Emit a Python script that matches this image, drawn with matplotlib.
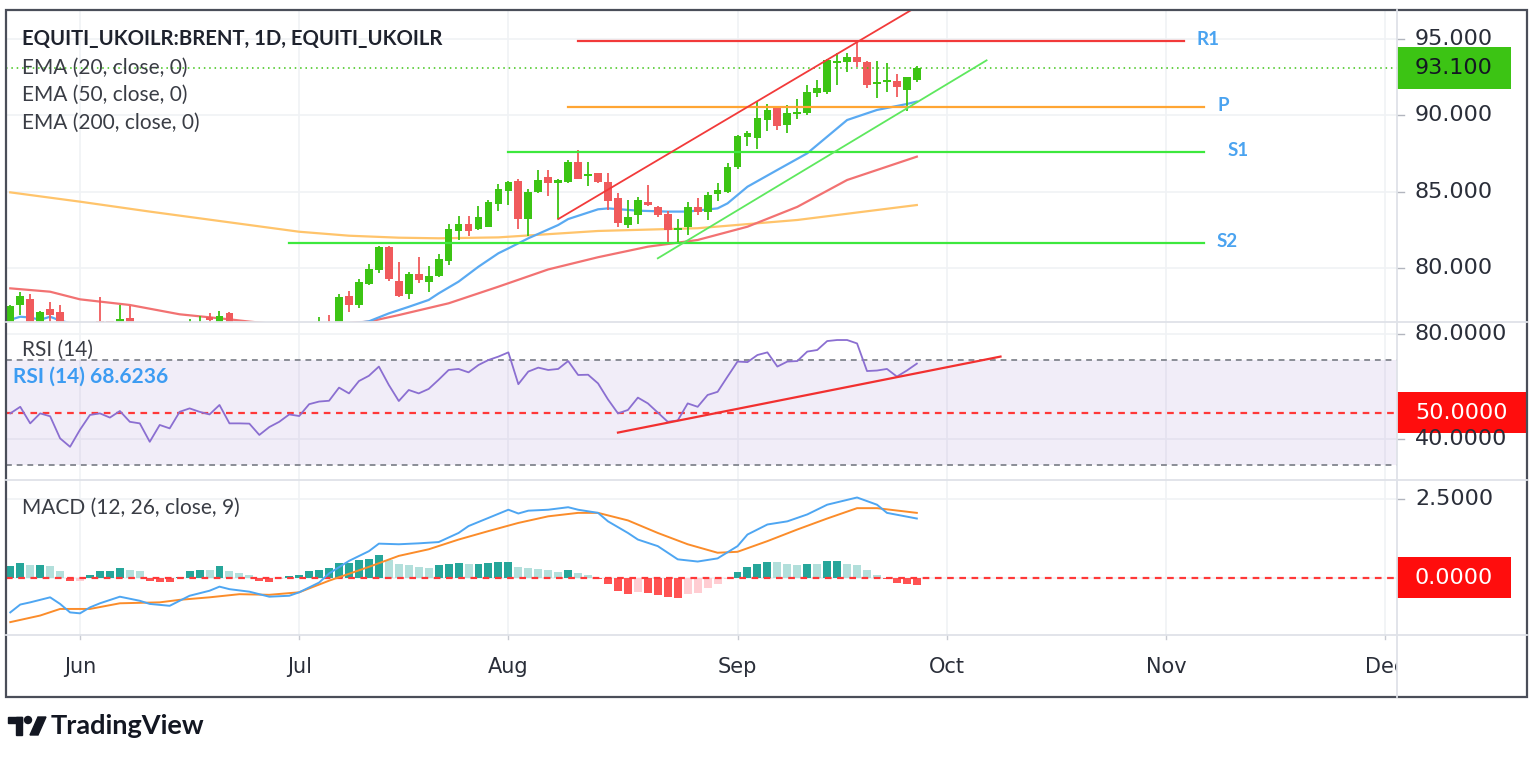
import matplotlib
matplotlib.use("Agg")
import matplotlib.pyplot as plt
import matplotlib.transforms as mtransforms
from matplotlib.patches import Rectangle, Ellipse, Polygon
from matplotlib.lines import Line2D

W, H = 1534, 757

# trading-day index, 0 = 1 Jun 2023
days = list(range(-7, 85))
opens = [76.0, 77.6, 77.94, 75.9, 77.31, 77.1, 76.0, 74.8, 75.9, 76.5, 76.52, 75.2, 76.74,
         75.7, 74.7, 73.3, 74.3, 73.9, 75.3, 75.5, 76.8, 76.3, 77.02, 76.0, 75.1, 74.2, 73.0,
         74.0, 75.0, 75.5, 75.2, 76.2, 76.3, 76.0, 78.18, 77.57, 78.95, 79.86, 81.35, 79.16,
         78.29, 79.6, 79.1, 79.49, 80.47, 82.44, 82.88, 82.55, 82.7, 84.19, 85.06, 85.72, 83.2,
         84.95, 85.98, 85.54, 85.6, 86.96, 86.04, 86.2, 85.65, 84.56, 82.81, 83.47, 84.34, 84.0,
         83.53, 82.48, 82.7, 84.0, 83.69, 84.85, 85.0, 86.6, 88.6, 88.5, 89.69, 90.5, 89.36,
         90.09, 90.13, 91.44, 91.55, 93.41, 93.51, 93.8, 93.51, 92.05, 92.16, 92.27, 91.66, 92.31]
highs = [77.6, 78.4, 78.27, 77.2, 77.74, 77.57, 76.3, 76.2, 76.3, 78.07, 76.55, 77.57, 77.5,
         76.2, 75.4, 74.5, 74.9, 75.6, 76.65, 76.87, 77.02, 77.2, 77.13, 76.3, 75.6, 74.5, 74.3,
         75.2, 75.8, 76.3, 76.4, 76.8, 76.91, 78.29, 78.5, 79.27, 80.26, 81.46, 81.42, 80.37,
         79.71, 80.69, 80.15, 80.91, 82.88, 83.42, 83.42, 84.08, 84.45, 85.5, 85.72, 85.83, 85.17,
         86.42, 86.42, 85.83, 87.07, 87.73, 86.96, 86.25, 86.2, 84.93, 84.45, 84.63, 85.43, 84.06,
         83.75, 83.2, 84.34, 84.56, 85.0, 85.54, 86.85, 88.7, 88.97, 90.89, 90.74, 90.57, 90.67,
         91.05, 91.99, 92.31, 93.69, 94.06, 94.1, 94.89, 93.58, 93.58, 93.45, 92.71, 92.49, 93.2]
lows = [75.8, 76.9, 75.9, 75.5, 76.2, 75.8, 74.5, 74.2, 74.6, 74.9, 75.0, 74.9, 75.5,
        74.3, 73.0, 73.0, 73.4, 73.5, 74.9, 75.0, 76.0, 75.9, 75.8, 74.8, 73.9, 72.8, 72.6,
        73.8, 74.6, 74.9, 75.0, 75.8, 75.6, 75.8, 77.13, 77.35, 78.88, 79.65, 79.16, 78.07,
        77.96, 79.03, 78.44, 79.43, 80.19, 81.83, 82.11, 82.48, 82.66, 83.75, 84.12, 82.55, 82.11,
        84.89, 84.73, 83.2, 85.54, 85.8, 85.39, 85.54, 83.79, 82.7, 82.6, 82.88, 84.07, 83.36,
        81.61, 81.61, 82.16, 83.45, 83.14, 84.4, 84.9, 86.5, 87.99, 87.77, 88.97, 89.04, 88.82,
        89.74, 90.0, 91.2, 91.4, 91.99, 92.86, 93.18, 91.77, 91.11, 91.55, 91.22, 90.3, 92.2]
closes = [77.52, 78.18, 76.1, 77.1, 76.91, 76.0, 74.8, 75.9, 75.0, 75.3, 75.4, 76.65, 75.7,
          74.7, 73.3, 74.3, 73.9, 75.3, 76.1, 76.2, 76.6, 76.87, 76.0, 75.1, 74.2, 73.0, 74.0,
          75.0, 75.5, 75.2, 76.2, 76.4, 76.0, 78.07, 77.57, 79.06, 79.93, 81.35, 79.27, 78.18,
          79.6, 79.2, 79.49, 80.58, 82.55, 82.88, 82.44, 83.31, 84.34, 85.17, 85.6, 83.2, 85.0,
          85.76, 85.54, 85.76, 86.96, 85.83, 86.15, 85.65, 84.4, 82.92, 83.35, 84.45, 84.12, 83.47,
          82.48, 82.6, 84.0, 83.69, 84.78, 85.1, 86.63, 88.64, 88.82, 89.8, 90.35, 89.3, 90.13,
          90.24, 91.55, 91.77, 93.62, 93.58, 93.8, 93.47, 91.99, 92.2, 92.31, 91.88, 92.49, 93.1]
last_price = 93.1

ema20_day = [-7, -6, -5, -4, -3, -2, 0, 10, 20, 29, 31, 33, 35, 36, 38, 40, 42, 43, 45, 48,
             49, 52, 53, 56, 59, 61, 64, 65, 67, 70, 73, 75, 77, 80, 83, 84]
ema20 = [76.6, 76.8, 76.75, 76.6, 76.8, 76.55, 76.2, 75.6, 75.7, 76.5, 77.02, 77.45, 77.9,
         78.33, 79.1, 80.08, 80.96, 81.28, 81.94, 82.81, 83.2, 83.84, 83.9, 83.75, 83.69, 83.69,
         83.9, 84.23, 85.32, 86.42, 87.51, 88.6, 89.69, 90.35, 90.74, 90.9]
ema50_day = [-7, -3, 0, 5, 10, 15, 17, 20, 25, 29, 32, 37, 42, 47, 52, 57, 62, 67, 72, 77, 84]
ema50 = [78.66, 78.44, 77.94, 77.57, 76.96, 76.63, 76.48, 76.3, 76.3, 76.48, 76.91, 77.68,
         78.77, 79.9, 80.7, 81.39, 81.83, 82.7, 84.0, 85.76, 87.29]
ema200_day = [-7, 0, 7, 12, 17, 22, 27, 32, 36, 42, 52, 62, 72, 84]
ema200 = [84.95, 84.34, 83.69, 83.25, 82.81, 82.37, 82.11, 81.98, 81.94, 82.0, 82.42, 82.6,
          83.14, 84.12]

pivot_names = ["R1", "P", "S1", "S2"]
pivot_levels = [94.87, 90.52, 87.57, 81.62]
pivot_start = [50, 49, 43, 21]
pivot_end = [110.8, 112.8, 112.8, 112.8]

channel_top_day = [48, 85]
channel_top = [83.2, 97.5]
channel_bot_day = [58, 91]
channel_bot = [80.63, 93.6]

rsi = [49.7, 52.2, 45.9, 49.7, 48.6, 40.2, 37.0, 43.5, 49.1, 49.7, 48.1, 50.6, 46.5, 45.9,
       38.9, 45.3, 44.0, 50.3, 51.6, 50.3, 49.3, 52.9, 45.9, 45.9, 45.8, 41.5, 44.5, 46.5,
       49.3, 48.7, 53.2, 54.2, 54.5, 59.5, 57.3, 62.0, 64.0, 67.5, 60.5, 54.4, 58.6, 57.3,
       59.0, 62.5, 66.2, 66.6, 65.3, 68.1, 70.0, 71.3, 72.9, 60.8, 65.6, 67.1, 66.2, 66.6,
       69.6, 64.3, 64.4, 61.1, 55.0, 49.7, 51.0, 55.7, 53.5, 50.0, 46.5, 47.0, 53.5, 52.2,
       56.7, 57.9, 63.7, 69.4, 69.2, 71.9, 72.9, 67.5, 69.4, 69.6, 73.2, 73.8, 77.2, 77.6,
       77.6, 76.3, 65.8, 66.0, 66.6, 63.7, 66.0, 68.62]
rsi_last = 68.6236
rsi_trend_day = [54, 92.4]
rsi_trend = [42.4, 71.3]

macd_day = [-7, -6, -5, -3, -2, -1, 0, 1, 2, 4, 6, 7, 9, 11, 13, 14, 15, 17, 19, 21, 22, 24,
            25, 27, 29, 30, 32, 34, 36, 38, 39, 41, 43, 44, 45, 47, 49, 50, 52, 53, 55, 56,
            58, 60, 62, 64, 66, 67, 69, 71, 73, 75, 78, 80, 81, 84]
macd = [-1.10, -0.85, -0.78, -0.62, -0.83, -1.10, -1.13, -0.94, -0.81, -0.60, -0.73, -0.83,
        -0.89, -0.57, -0.41, -0.28, -0.36, -0.44, -0.60, -0.57, -0.46, -0.15, 0.14, 0.54,
        0.85, 1.09, 1.07, 1.10, 1.14, 1.43, 1.65, 1.91, 2.17, 2.05, 2.14, 2.17, 2.25, 2.17,
        2.07, 1.80, 1.43, 1.22, 1.01, 0.59, 0.52, 0.62, 1.01, 1.38, 1.70, 1.80, 2.02, 2.33,
        2.56, 2.33, 2.07, 1.89]
signal_day = [-7, -4, -2, 1, 4, 8, 10, 13, 16, 19, 22, 25, 29, 32, 35, 38, 41, 44, 47, 50,
              52, 55, 58, 61, 64, 66, 69, 72, 75, 78, 80, 84]
signal = [-1.41, -1.20, -0.99, -0.99, -0.81, -0.78, -0.70, -0.62, -0.52, -0.54, -0.46, -0.09,
          0.35, 0.70, 0.91, 1.22, 1.49, 1.75, 1.96, 2.07, 2.07, 1.83, 1.43, 1.07, 0.80, 0.83,
          1.17, 1.54, 1.89, 2.22, 2.22, 2.07]
hist = [0.37, 0.47, 0.40, 0.41, 0.38, 0.21, -0.11, -0.10, 0.08, 0.21, 0.22, 0.32, 0.26, 0.21,
        -0.11, -0.12, -0.13, 0.03, 0.21, 0.26, 0.25, 0.37, 0.21, 0.14, 0.08, -0.11, -0.12,
        -0.05, 0.05, 0.08, 0.21, 0.26, 0.32, 0.47, 0.48, 0.56, 0.61, 0.72, 0.58, 0.45, 0.40,
        0.35, 0.30, 0.40, 0.45, 0.46, 0.44, 0.45, 0.46, 0.51, 0.52, 0.35, 0.30, 0.29, 0.24,
        0.19, 0.24, 0.14, 0.08, -0.05, -0.21, -0.42, -0.53, -0.46, -0.48, -0.55, -0.60, -0.63,
        -0.53, -0.47, -0.32, -0.21, -0.05, 0.19, 0.35, 0.45, 0.51, 0.50, 0.45, 0.40, 0.45,
        0.44, 0.53, 0.54, 0.45, 0.40, 0.24, 0.08, -0.05, -0.16, -0.21, -0.22]

month_day = [0, 22, 43, 66, 87, 109, 131]
month_lbl = ["Jun", "Jul", "Aug", "Sep", "Oct", "Nov", "Dec"]
price_ticks = [80, 85, 90, 95]
rsi_ticks = [40, 80]
macd_ticks = [2.5]

GREEN = "#3cc414"
RED = "#f05a5c"
GRID = "#f0f2f5"
SEP = "#dfe2e8"
TXT = "#2a2e39"
LBL = ["Lato", "DejaVu Sans"]

fig = plt.figure(figsize=(W / 100, H / 100), dpi=100)
fig.patch.set_facecolor("white")


def fx(x):
    return x / W


def fy(y):
    return 1 - y / H


def px_box(x0, y0, x1, y1):
    return [x0 / W, 1 - y1 / H, (x1 - x0) / W, (y1 - y0) / H]


XL = (-7.43, 132.2)
ax = fig.add_axes(px_box(6, 10, 1397, 322))
ax_rsi = fig.add_axes(px_box(6, 322, 1397, 480))
ax_macd = fig.add_axes(px_box(6, 480, 1397, 635))
ax_t = fig.add_axes(px_box(6, 635, 1397, 697))
ax.set_ylim(76.455, 96.9)
ax_rsi.set_ylim(24.37, 84.45)
ax_macd.set_ylim(-1.82, 3.117)
ax_t.set_ylim(0, 1)
for a in (ax, ax_rsi, ax_macd, ax_t):
    a.set_xlim(*XL)
    a.set_axis_off()
for a in (ax, ax_rsi, ax_macd):
    for m in month_day:
        a.axvline(m, color=GRID, lw=1.2, zorder=0)
for v in price_ticks:
    ax.axhline(v, color=GRID, lw=1.2, zorder=0)
for v in rsi_ticks:
    ax_rsi.axhline(v, color=GRID, lw=1.2, zorder=0)
for v in macd_ticks + [0]:
    ax_macd.axhline(v, color=GRID, lw=1.2, zorder=0)

# main pane: EMAs, candles, drawings
ax.plot(ema200_day, ema200, color="#ffc46b", lw=1.6, zorder=2)
ax.plot(ema50_day, ema50, color="#f27272", lw=1.6, zorder=2)
ax.plot(ema20_day, ema20, color="#5aaaf2", lw=1.6, zorder=2)

cols = [GREEN if c >= o else RED for o, c in zip(opens, closes)]
bottoms = [min(o, c) for o, c in zip(opens, closes)]
heights = [max(abs(c - o), 0.07) for o, c in zip(opens, closes)]
ax.vlines(days, lows, highs, colors=cols, lw=1.3, zorder=3)
ax.bar(days, heights, bottom=bottoms, width=0.78, color=cols, zorder=4)

ax.axhline(last_price, color=GREEN, lw=1.1, ls=(0, (1, 2.5)), zorder=5)
pivot_cols = ["#f23a3a", "#ffa533", "#3de83d", "#3de83d"]
for lvl, s, e, c in zip(pivot_levels, pivot_start, pivot_end, pivot_cols):
    ax.plot([s, e], [lvl, lvl], color=c, lw=1.6, zorder=6)
ax.plot(channel_top_day, channel_top, color="#f23a3a", lw=1.3, zorder=6)
ax.plot(channel_bot_day, channel_bot, color="#5ee85e", lw=1.3, zorder=6)

label_x = [112.1, 114.2, 115.2, 114.1]
for name, lvl, lx in zip(pivot_names, pivot_levels, label_x):
    ax.text(lx, lvl + 0.1, name, color="#4aa3f0", fontsize=13.5, fontweight="bold",
            family=LBL, va="center", ha="left", zorder=7)

# RSI pane
ax_rsi.axhspan(30, 70, color="#7e57c2", alpha=0.1, lw=0, zorder=1)
ax_rsi.axhline(70, color="#8a8d96", lw=1.4, dashes=(3, 2.5), zorder=2)
ax_rsi.axhline(30, color="#8a8d96", lw=1.4, dashes=(3, 2.5), zorder=2)
ax_rsi.axhline(50, color="#ff3838", lw=1.6, dashes=(3, 2.5), zorder=2)
ax_rsi.plot(days, rsi, color="#8b6fd1", lw=1.3, zorder=3)
ax_rsi.plot(rsi_trend_day, rsi_trend, color="#f23030", lw=1.6, zorder=4)

# MACD pane
hcols = []
prev = None
for h in hist:
    up = prev is None or h >= prev
    if h >= 0:
        hcols.append("#26a69a" if up else "#b2dfdb")
    else:
        hcols.append("#ffcdd2" if up else "#ff5252")
    prev = h
ax_macd.bar(days, hist, width=0.8, color=hcols, zorder=2)
ax_macd.axhline(0, color="#ff3838", lw=1.6, dashes=(3, 2.5), zorder=3)
ax_macd.plot(signal_day, signal, color="#fb8c2a", lw=1.4, zorder=4)
ax_macd.plot(macd_day, macd, color="#4ea6f2", lw=1.4, zorder=5)

# time axis
for m, lbl in zip(month_day, month_lbl):
    ax_t.plot([m, m], [0.93, 1.0], color="#c8cbd2", lw=1)
    ax_t.text(m, 0.48, lbl, ha="center", va="center", fontsize=15, color=TXT, clip_on=True)


# price scales
def scale_labels(a, values, texts):
    tr = mtransforms.blended_transform_factory(fig.transFigure, a.transData)
    for v, t in zip(values, texts):
        fig.add_artist(Line2D([fx(1397), fx(1404)], [v, v], transform=tr, color="#b2b5be", lw=1))
        fig.text(fx(1415), v, t, transform=tr, fontsize=16, color=TXT, va="center", ha="left")
    return tr


def value_box(tr, v, half, width, text, face, tc):
    fig.add_artist(Rectangle((fx(1397), v - half), width / W, 2 * half, transform=tr,
                             facecolor=face, edgecolor="none"))
    fig.text(fx(1415), v, text, transform=tr, fontsize=16, color=tc, va="center", ha="left")


tr_main = scale_labels(ax, price_ticks, ["%.3f" % v for v in price_ticks])
value_box(tr_main, last_price, 1.35, 114, "%.3f" % last_price, GREEN, "#131722")
tr_rsi = scale_labels(ax_rsi, rsi_ticks, ["%.4f" % v for v in rsi_ticks])
value_box(tr_rsi, 50, 7.8, 129, "%.4f" % 50, "#ff0d0d", "white")
tr_macd = scale_labels(ax_macd, macd_ticks, ["%.4f" % v for v in macd_ticks])
value_box(tr_macd, 0, 0.65, 114, "%.4f" % 0, "#ff0d0d", "white")

# legends
fig.text(fx(22), fy(39), "EQUITI_UKOILR:BRENT, 1D, EQUITI_UKOILR", fontsize=14.6,
         fontweight="bold", color="#1e222d", family=LBL, va="center")
for y, t in zip([68, 95, 123], ["EMA (20, close, 0)", "EMA (50, close, 0)", "EMA (200, close, 0)"]):
    fig.text(fx(22), fy(y), t, fontsize=15, color="#3a3d45", family=LBL, va="center")
fig.text(fx(22), fy(350), "RSI (14)", fontsize=15, color="#3a3d45", family=LBL, va="center")
fig.text(fx(13), fy(377), "RSI (14) %.4f" % rsi_last, fontsize=15, color="#3d9cf2",
         fontweight="bold", family=LBL, va="center")
fig.text(fx(22), fy(508), "MACD (12, 26, close, 9)", fontsize=15, color="#3a3d45",
         family=LBL, va="center")

# frame and separators
for y in (322, 480, 635):
    fig.add_artist(Line2D([fx(6), fx(1527)], [fy(y), fy(y)], color=SEP, lw=1.3))
fig.add_artist(Line2D([fx(1397), fx(1397)], [fy(10), fy(697)], color=SEP, lw=1.3))
fig.add_artist(Rectangle((fx(6), fy(697)), 1521 / W, 687 / H, fill=False,
                         edgecolor="#4a4e59", lw=1.6, transform=fig.transFigure))

# TradingView logo
logo = "#131722"
fig.add_artist(Rectangle((fx(8), fy(723)), 14 / W, 6 / H, color=logo, transform=fig.transFigure))
fig.add_artist(Rectangle((fx(16), fy(735)), 6 / W, 18 / H, color=logo, transform=fig.transFigure))
fig.add_artist(Ellipse((fx(28), fy(720)), 7 / W, 7 / H, color=logo, transform=fig.transFigure))
fig.add_artist(Polygon([(fx(38), fy(717)), (fx(46), fy(717)), (fx(38), fy(735)), (fx(30), fy(735))],
                       closed=True, color=logo, transform=fig.transFigure))
fig.text(fx(51), fy(726), "TradingView", fontsize=19.5, fontweight="bold", color=logo,
         family=LBL, va="center")

fig.savefig("out.png", dpi=100)
